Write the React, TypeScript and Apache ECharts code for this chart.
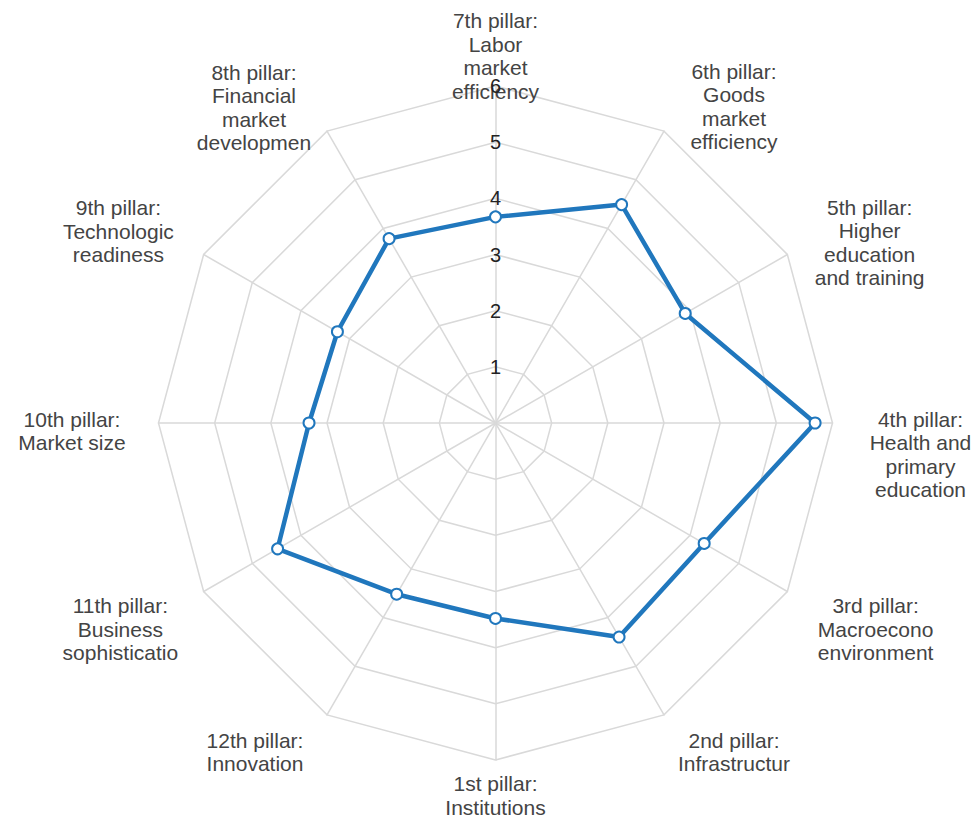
import React, { useEffect, useRef } from 'react';
import * as echarts from 'echarts';

// ---- data ----
const categories: string[] = [
  '1st pillar:\nInstitutions',
  '2nd pillar:\nInfrastructur',
  '3rd pillar:\nMacroecono\nenvironment',
  '4th pillar:\nHealth and\nprimary\neducation',
  '5th pillar:\nHigher\neducation\nand training',
  '6th pillar:\nGoods\nmarket\nefficiency',
  '7th pillar:\nLabor\nmarket\nefficiency',
  '8th pillar:\nFinancial\nmarket\ndevelopmen',
  '9th pillar:\nTechnologic\nreadiness',
  '10th pillar:\nMarket size',
  '11th pillar:\nBusiness\nsophisticatio',
  '12th pillar:\nInnovation',
];
const scores: number[] = [3.48, 4.40, 4.29, 5.69, 3.90, 4.49, 3.67, 3.79, 3.25, 3.32, 4.48, 3.52];
const scaleMin = 0;
const scaleMax = 6;
const scaleSteps = 6;
const tickAxisIndex = 6; // tick labels 1..6 shown on the "7th pillar" spoke

// ---- layout / style (not data) ----
const FONT = "'Liberation Sans', Arial, sans-serif";
const BLUE = '#2077bd';
const GRID = '#d9d9d9';
const LABEL_COLOR = '#444444';
const namePadding: number[][] = [
  [29, 0, 0, 0],
  [104, 0, 0, 13.5],
  [92, 0, 0, 38],
  [63, 0, 0, 40],
  [0, 0, 41, 32],
  [0, 0, 79, 13.5],
  [0, 0, 0, 0],
  [0, 16.5, 77, 0],
  [0, 35, 64, 0],
  [16, 38.5, 0, 0],
  [92, 33, 0, 0],
  [104, 15.5, 0, 0],
];

export default function App() {
  const ref = useRef<HTMLDivElement>(null);
  useEffect(() => {
    document.body.style.margin = '0';
    if (!ref.current) return;
    const chart = echarts.init(ref.current, undefined, { renderer: 'svg' });
    const indicator = categories.map((name, i) => {
      const ind: any = {
        name,
        min: scaleMin,
        max: scaleMax,
        nameMoveOverlap: false,
        nameTextStyle: { padding: namePadding[i] },
      };
      if (i === tickAxisIndex) ind.axisLabel = { show: true };
      return ind;
    });
    chart.setOption({
      animation: false,
      radar: {
        center: [495.5, 423],
        radius: 337,
        startAngle: -90,
        shape: 'polygon',
        splitNumber: scaleSteps,
        axisNameGap: -17,
        axisName: {
          color: LABEL_COLOR,
          fontFamily: FONT,
          fontSize: 21,
          formatter: (name: string) =>
            name.split('\n').map((l) => `{n|${l}}`).join('\n'),
          rich: {
            n: {
              width: 130,
              align: 'center',
              fontSize: 21,
              lineHeight: 23.5,
              fontFamily: FONT,
              color: LABEL_COLOR,
            },
          },
        },
        splitLine: { lineStyle: { color: GRID, width: 1.5 } },
        splitArea: { show: false },
        axisLine: { lineStyle: { color: GRID, width: 1.5 } },
        axisTick: { show: false },
        axisLabel: {
          show: false,
          margin: 0,
          align: 'center',
          verticalAlign: 'middle',
          fontSize: 20,
          fontFamily: FONT,
          color: '#222',
          showMinLabel: false,
        },
        indicator,
      },
      series: [
        {
          type: 'radar',
          symbol: 'emptyCircle',
          symbolSize: 11,
          lineStyle: { color: BLUE, width: 4.5 },
          itemStyle: { color: BLUE, borderWidth: 2 },
          data: [{ value: scores, name: 'Score' }],
        },
      ],
    });
    return () => chart.dispose();
  }, []);
  return <div ref={ref} style={{ width: 978, height: 826 }} />;
}
